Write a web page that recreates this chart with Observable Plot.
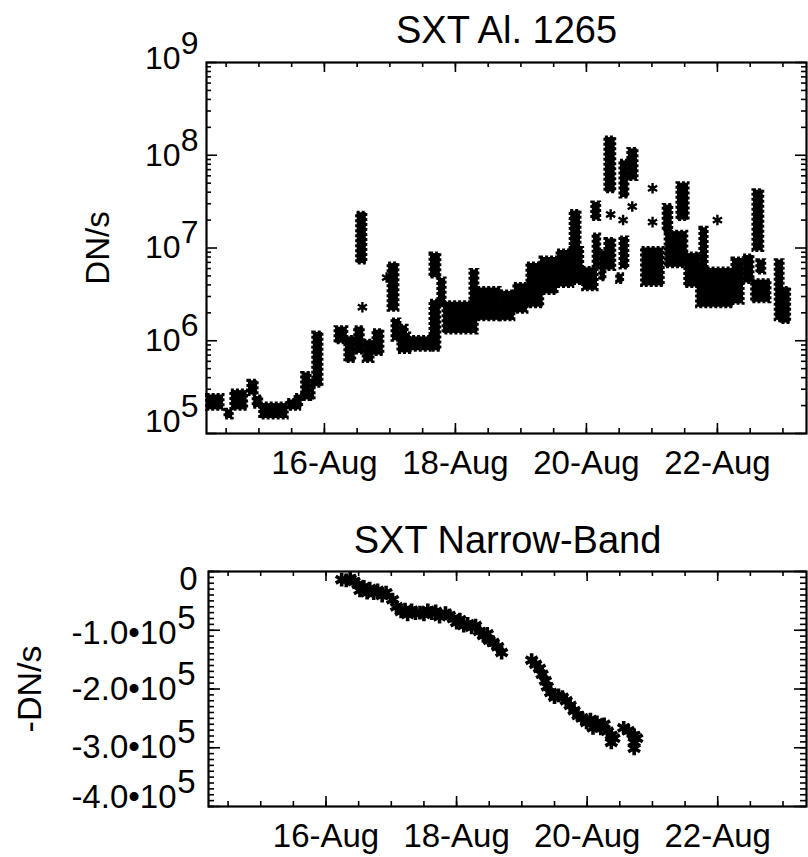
<!DOCTYPE html>
<html><head><meta charset="utf-8">
<script src="https://cdn.jsdelivr.net/npm/d3@7"></script>
<script src="https://cdn.jsdelivr.net/npm/@observablehq/plot@0.6"></script>
<style>
html,body{margin:0;padding:0;background:#fff;}
#chart{width:808px;}
#chart svg{display:block;}
</style></head><body><div id="chart"></div>
<script>
// ---------- data (fractional day of August) ----------
const titleTop = "SXT Al. 1265";
const titleBottom = "SXT Narrow-Band";
const yLabelTop = "DN/s";
const yLabelBottom = "-DN/s";

const dayTicks = [16, 18, 20, 22];
const dayTickLabels = ["16-Aug", "18-Aug", "20-Aug", "22-Aug"];
const halfDayTicks = [14.5, 15, 15.5, 16, 16.5, 17, 17.5, 18, 18.5, 19, 19.5, 20, 20.5, 21, 21.5, 22, 22.5, 23];

const topDecades = [1e5, 1e6, 1e7, 1e8, 1e9];
const topTickBase = ["10", "10", "10", "10", "10"];
const topTickExp = ["5", "6", "7", "8", "9"];

const bottomTicks = [0, -1e5, -2e5, -3e5, -4e5];
const bottomTickBase = ["0", "-1.0\u202210", "-2.0\u202210", "-3.0\u202210", "-4.0\u202210"];
const bottomTickExp = ["", "5", "5", "5", "5"];

// SXT Al.1265: clusters of samples (start day, end day, min DN/s, max DN/s)
const alStart = [14.21,14.49,14.58,14.84,14.92,15.02,15.44,15.56,15.66,15.79,
  15.83,16.17,16.32,16.47,16.60,16.75,16.50,16.98,17.04,17.13,
  17.16,17.27,17.62,17.62,17.74,17.82,18.23,18.34,18.69,18.90,
  19.10,19.30,19.56,19.76,19.76,19.95,20.09,20.11,20.29,20.21,
  20.29,20.47,20.52,20.52,20.64,20.85,21.18,21.21,21.39,21.51,
  21.74,21.69,22.23,22.40,22.55,22.61,22.53,22.89,22.96];
const alEnd = [14.46,14.60,14.82,14.98,15.05,15.44,15.63,15.66,15.79,15.85,
  15.97,16.35,16.47,16.60,16.75,16.90,16.64,17.13,17.16,17.31,
  17.27,17.62,17.77,17.77,17.85,18.34,18.35,18.69,18.90,19.10,
  19.34,19.56,19.80,19.91,19.95,20.17,20.21,20.21,20.44,20.29,
  20.44,20.56,20.64,20.64,20.78,21.18,21.31,21.54,21.56,21.74,
  21.85,22.24,22.40,22.55,22.70,22.73,22.81,23.01,23.11];
const alLow = [1.8e5,1.45e5,1.8e5,2.6e5,1.9e5,1.45e5,1.8e5,1.9e5,2.3e5,2.3e5,
  3.2e5,9.4e5,5.9e5,7.3e5,5.9e5,7.0e5,6.8e6,2.1e6,1.0e6,7.4e5,
  7.8e5,7.8e5,4.8e6,7.8e5,2.3e6,1.2e6,2.3e6,1.66e6,1.66e6,2.0e6,
  2.3e6,3.2e6,3.8e6,9.3e6,4.1e6,3.5e6,2.0e7,6.2e6,4.0e7,4.5e6,
  5.8e6,4.2e6,6.0e6,3.5e7,5.4e7,3.9e6,1.5e7,6.2e6,2.0e7,3.8e6,
  3.8e6,2.3e6,2.5e6,4.2e6,9.3e6,5.3e6,2.6e6,1.66e6,1.55e6];
const alHigh = [2.6e5,1.8e5,2.9e5,3.7e5,2.5e5,2.1e5,2.3e5,2.6e5,4.5e5,3.7e5,
  1.23e6,1.4e6,1.1e6,1.4e6,1.0e6,1.3e6,2.4e7,6.8e6,1.7e6,1.2e6,
  1.45e6,1.1e6,8.7e6,2.7e6,4.7e6,2.6e6,5.8e6,3.7e6,3.4e6,4.1e6,
  6.8e6,7.9e6,9.4e6,2.5e7,1.0e7,6.1e6,3.1e7,1.4e7,1.55e8,9.3e6,
  1.25e7,5.2e6,1.3e7,8.7e7,1.17e8,1.0e7,2.9e7,1.5e7,5.0e7,8.7e6,
  1.65e7,6.0e6,7.7e6,8.3e6,4.2e7,7.4e6,4.5e6,7.4e6,3.7e6];
// isolated single samples
const alPointDay = [16.58, 16.95, 20.37, 20.56, 20.70, 21.01, 21.01, 22.00];
const alPointVal = [2.3e6, 4.8e6, 2.3e7, 2.0e7, 2.8e7, 4.4e7, 1.9e7, 2.0e7];

// SXT narrow-band samples
const nbDay = [16.24,16.31,16.37,16.43,16.49,16.52,16.58,16.63,16.67,16.73,
  16.79,16.86,16.92,17.02,17.08,17.15,17.21,17.25,17.31,17.37,
  17.44,17.50,17.56,17.62,17.68,17.74,17.83,17.89,17.95,18.00,
  18.05,18.11,18.17,18.23,18.29,18.35,18.41,18.47,18.50,18.56,
  18.63,18.69,
  19.15,19.21,19.27,19.31,19.36,19.39,19.44,19.50,19.56,19.62,
  19.68,19.74,19.80,19.86,19.92,19.99,20.05,20.09,20.15,20.21,
  20.26,20.31,20.37,20.37,20.41,20.56,20.63,20.72,20.72,20.72,
  20.76];
const nbVal = [-1.4e4,-1.5e4,-1.2e4,-1.7e4,-2.2e4,-3.2e4,-2.6e4,-3.6e4,-2.9e4,-3.7e4,
  -3.2e4,-4.1e4,-3.6e4,-4.8e4,-6.0e4,-6.8e4,-6.5e4,-7.3e4,-6.6e4,-7.1e4,
  -7.0e4,-7.3e4,-6.6e4,-7.1e4,-6.8e4,-7.7e4,-7.1e4,-7.5e4,-8.0e4,-8.7e4,
  -8.2e4,-9.2e4,-8.9e4,-9.5e4,-9.2e4,-1.02e5,-1.09e5,-1.06e5,-1.17e5,-1.21e5,
  -1.28e5,-1.38e5,
  -1.51e5,-1.58e5,-1.65e5,-1.75e5,-1.86e5,-1.96e5,-2.06e5,-2.14e5,-2.11e5,-2.14e5,
  -2.20e5,-2.28e5,-2.37e5,-2.45e5,-2.49e5,-2.57e5,-2.52e5,-2.66e5,-2.57e5,-2.67e5,
  -2.60e5,-2.72e5,-2.79e5,-2.91e5,-2.84e5,-2.66e5,-2.71e5,-2.79e5,-2.91e5,-3.01e5,
  -2.84e5];

// ---------- build tables ----------
const alBlocks = alStart.map((s, i) => ({t0: s, t1: alEnd[i], lo: alLow[i], hi: alHigh[i]}));
const alPoints = alPointDay.map((d, i) => ({t: d, v: alPointVal[i]}));
const nbPoints = nbDay.map((d, i) => ({t: d, v: nbVal[i]}));

const FONT = "'Liberation Sans', Arial, Helvetica, sans-serif";
const W = 808;
const xDomain = [14.2, 23.36];

function frameTicks(innerW, innerH, yMinor, yMajor, yMinorLen, yMajorLen) {
  const st = {stroke: "black", strokeWidth: 1.6};
  return [
    Plot.ruleX(halfDayTicks, {x: d => d, insetTop: innerH - 5, ...st}),
    Plot.ruleX(dayTicks, {x: d => d, insetTop: innerH - 10, ...st}),
    Plot.ruleX(halfDayTicks, {x: d => d, insetBottom: innerH - 5, ...st}),
    Plot.ruleX(dayTicks, {x: d => d, insetBottom: innerH - 10, ...st}),
    Plot.ruleY(yMinor, {y: d => d, insetRight: innerW - yMinorLen, ...st}),
    Plot.ruleY(yMajor, {y: d => d, insetRight: innerW - yMajorLen, ...st}),
    Plot.ruleY(yMinor, {y: d => d, insetLeft: innerW - yMinorLen, ...st}),
    Plot.ruleY(yMajor, {y: d => d, insetLeft: innerW - yMajorLen, ...st}),
    Plot.frame({stroke: "black", strokeWidth: 2.2})
  ];
}

function yLabels(values, bases, exps, dys, baseDx, zeroDx, expDx, fs) {
  const out = [];
  values.forEach((v, i) => {
    out.push(Plot.text([v], {y: d => d, frameAnchor: "left", text: () => bases[i],
      textAnchor: "end", lineAnchor: "middle", dx: exps[i] ? baseDx : zeroDx, dy: dys[i], fontSize: fs, fill: "black"}));
    if (exps[i]) out.push(Plot.text([v], {y: d => d, frameAnchor: "left", text: () => exps[i],
      textAnchor: "end", lineAnchor: "middle", dx: expDx, dy: dys[i] - 15, fontSize: fs, fill: "black"}));
  });
  return out;
}

function xLabels(fs) {
  return Plot.text(dayTicks, {x: d => d, frameAnchor: "bottom", lineAnchor: "top",
    text: (d, i) => dayTickLabels[i], dy: 17, fontSize: fs, fill: "black"});
}

// ---------- top panel ----------
const topH = 510, topMT = 62, topMB = 77, topML = 206, topMR = 2;
const topInnerH = topH - topMT - topMB, topInnerW = W - topML - topMR;
const logMinor = [];
for (const dec of [1e5, 1e6, 1e7, 1e8]) for (let k = 2; k <= 9; k++) logMinor.push(k * dec);

const topPlot = Plot.plot({
  width: W, height: topH,
  marginTop: topMT, marginBottom: topMB, marginLeft: topML, marginRight: topMR,
  x: {domain: xDomain, axis: null},
  y: {type: "log", domain: [1e5, 1e9], axis: null},
  style: {fontFamily: FONT, background: "white", color: "black", overflow: "visible"},
  marks: [
    Plot.rect(alBlocks, {x1: "t0", x2: "t1", y1: "lo", y2: "hi", fill: "black",
      stroke: "black", strokeWidth: 3, strokeDasharray: "3 2"}),
    Plot.dot(alPoints, {x: "t", y: "v", symbol: "asterisk", r: 5, stroke: "black", strokeWidth: 2.4}),
    ...frameTicks(topInnerW, topInnerH, logMinor, topDecades, 5, 11),
    ...yLabels(topDecades, topTickBase, topTickExp, [-12, 0, 0, 0, -4], -26, -10, -8, 32),
    xLabels(33),
    Plot.text([titleTop], {frameAnchor: "top", lineAnchor: "middle", text: d => d, dy: -32, fontSize: 38, fill: "black"}),
    Plot.text([yLabelTop], {frameAnchor: "left", textAnchor: "middle", lineAnchor: "middle", text: d => d, rotate: -90, dx: -108, fontSize: 33, fill: "black"})
  ]
});

// ---------- bottom panel ----------
const botH = 347, botMT = 61, botMB = 51, botML = 208, botMR = 2;
const botInnerH = botH - botMT - botMB, botInnerW = W - botML - botMR;
const linMinor = d3.range(-40, 1).map(k => k * 1e4);

const botPlot = Plot.plot({
  width: W, height: botH,
  marginTop: botMT, marginBottom: botMB, marginLeft: botML, marginRight: botMR,
  x: {domain: xDomain, axis: null},
  y: {domain: [-4e5, 0], axis: null},
  style: {fontFamily: FONT, background: "white", color: "black", overflow: "visible"},
  marks: [
    Plot.dot(nbPoints, {x: "t", y: "v", symbol: "asterisk", r: 6.5, stroke: "black", strokeWidth: 3.6}),
    ...frameTicks(botInnerW, botInnerH, linMinor, bottomTicks, 6, 12),
    ...yLabels(bottomTicks, bottomTickBase, bottomTickExp, [8, 3, 0, 0, -9], -32, -11, -13, 33),
    xLabels(33),
    Plot.text([titleBottom], {frameAnchor: "top", lineAnchor: "middle", text: d => d, dy: -31, fontSize: 38, fill: "black"}),
    Plot.text([yLabelBottom], {frameAnchor: "left", textAnchor: "middle", lineAnchor: "middle", text: d => d, rotate: -90, dx: -178, fontSize: 34, fill: "black"})
  ]
});

const chart = document.getElementById("chart");
chart.appendChild(topPlot);
chart.appendChild(botPlot);
</script>
</body></html>
